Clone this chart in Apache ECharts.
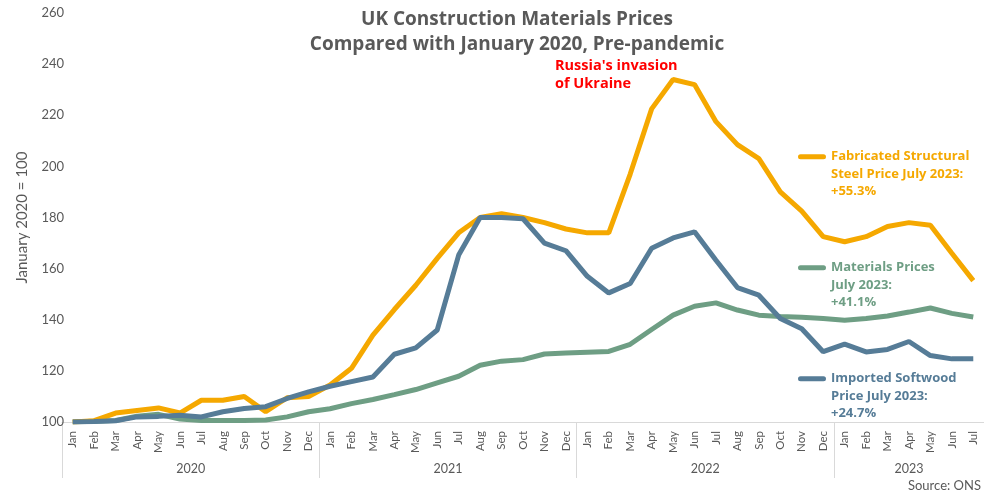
<!DOCTYPE html>
<html>
<head>
<meta charset="utf-8">
<script src="https://cdn.jsdelivr.net/npm/echarts@6/dist/echarts.min.js"></script>
<style>html,body{margin:0;padding:0;background:#fff}#c{width:984px;height:494px}</style>
</head>
<body>
<div id="c"></div>
<script>
var monthNames = ['Jan','Feb','Mar','Apr','May','Jun','Jul','Aug','Sep','Oct','Nov','Dec'];
var years = ['2020','2021','2022','2023'];
var monthsPerYear = [12, 12, 12, 7];

var steel = [100, 100.5, 103.5, 104.5, 105.5, 103.5, 108.5, 108.5, 110, 104, 109.5, 110,
  114.5, 121, 134, 144, 153.5, 164, 174, 180, 181.5, 180, 178, 175.5,
  174, 174, 197, 222.5, 234, 232, 217.5, 208.5, 203, 190, 182.5, 172.5,
  170.5, 172.5, 176.5, 178, 177, 166, 155.3];
var materials = [100, 100.3, 100.6, 102.3, 103, 101.2, 100.6, 100.6, 100.6, 100.8, 102, 104,
  105.2, 107.2, 108.8, 110.7, 112.7, 115.3, 117.9, 122.2, 123.8, 124.4, 126.6, 127,
  127.3, 127.6, 130.4, 136.2, 141.8, 145.3, 146.6, 143.8, 141.8, 141.3, 141, 140.5,
  139.8, 140.5, 141.5, 143, 144.6, 142.5, 141.1];
var softwood = [100, 100.2, 100.5, 102, 102.2, 102.6, 102, 104, 105.3, 106, 109.2, 111.8,
  114, 115.8, 117.6, 126.5, 129, 136, 165.3, 180, 180, 179.5, 170, 167,
  157, 150.5, 154.2, 168, 172, 174.4, 163.3, 152.6, 149.6, 140.5, 136.5, 127.5,
  130.5, 127.4, 128.4, 131.5, 126, 124.7, 124.7];

var seriesNames = ['Fabricated Structural Steel', 'Materials Prices', 'Imported Softwood'];
var legendTexts = ['Fabricated Structural\nSteel Price July 2023:\n+55.3%',
                   'Materials Prices\nJuly 2023:\n+41.1%',
                   'Imported Softwood\nPrice July 2023:\n+24.7%'];
var colors = ['#F5A800', '#6E9E84', '#567C97'];
var invasionPos = 26.1; // month index position (late Feb / start of Mar 2022)
var invasionText = "Russia's invasion\nof Ukraine";

var categories = [];
var yearBounds = [];
var yearCenters = [];
var acc = 0;
for (var y = 0; y < years.length; y++) {
  yearBounds.push(acc);
  yearCenters.push(acc + monthsPerYear[y] / 2);
  for (var m = 0; m < monthsPerYear[y]; m++) categories.push(monthNames[m]);
  acc += monthsPerYear[y];
}
yearBounds.push(acc);

var FONT = 'Lato';
var BFONT = 'Open Sans';
var GREY = '#595959';
var LH = 17.5;
var ICON = 'path://M2.5,0 L25.5,0 A2.5,2.5 0 0 1 25.5,5 L2.5,5 A2.5,2.5 0 0 1 2.5,0 Z M0,40 L28,40';

var chart = echarts.init(document.getElementById('c'), null, {renderer: 'canvas'});

function legendFor(i, top) {
  return {
    data: [seriesNames[i]],
    left: 793, top: top,
    orient: 'vertical',
    icon: ICON,
    itemWidth: 28, itemHeight: 40,
    selectedMode: false,
    formatter: function () { return legendTexts[i]; },
    textStyle: {color: colors[i], fontFamily: BFONT, fontWeight: 'bold', fontSize: 13, lineHeight: LH}
  };
}

chart.setOption({
  animation: false,
  textStyle: {fontFamily: FONT},
  title: [{
    text: 'UK Construction Materials Prices\nCompared with January 2020, Pre-pandemic',
    left: 512, top: 2, textAlign: 'center',
    textStyle: {fontFamily: BFONT, fontSize: 19, fontWeight: 'bold', color: GREY, lineHeight: 25}
  }],
  grid: {left: 62, right: 0, top: 13, bottom: 72, outerBoundsMode: 'none', containLabel: false},
  legend: [legendFor(0, 143), legendFor(1, 254), legendFor(2, 365)],
  xAxis: [{
    type: 'category', data: categories, boundaryGap: true,
    axisLine: {lineStyle: {color: '#d9d9d9', width: 1}},
    axisTick: {show: false},
    axisLabel: {rotate: 90, interval: 0, fontSize: 11.5, color: GREY, margin: 9, fontFamily: FONT}
  }, {
    type: 'value', min: 0, max: acc, position: 'bottom',
    axisLine: {show: false}, splitLine: {show: false},
    axisTick: {show: true, customValues: yearBounds, length: 56, lineStyle: {color: '#d9d9d9'}},
    axisLabel: {customValues: yearCenters, margin: 40, fontSize: 12.5, color: GREY, fontFamily: FONT,
      formatter: function (v) { var k = yearCenters.indexOf(v); return k >= 0 ? years[k] : ''; }}
  }],
  yAxis: {
    type: 'value', min: 100, max: 260, interval: 20, position: 'left',
    name: 'January 2020 = 100', nameLocation: 'middle', nameGap: 32, nameRotate: 90,
    nameMoveOverlap: false,
    nameTextStyle: {fontSize: 15, color: GREY, fontFamily: FONT},
    axisLine: {show: false}, axisTick: {show: false}, splitLine: {show: false},
    axisLabel: {fontSize: 13, color: GREY, margin: -2, align: 'right', fontFamily: FONT}
  },
  series: [{
    name: seriesNames[1], type: 'line', data: materials, showSymbol: false, symbol: 'none',
    lineStyle: {width: 5, color: colors[1]}, itemStyle: {color: colors[1]}, z: 2
  }, {
    name: seriesNames[0], type: 'line', data: steel, showSymbol: false, symbol: 'none',
    lineStyle: {width: 5, color: colors[0]}, itemStyle: {color: colors[0]}, z: 3
  }, {
    name: seriesNames[2], type: 'line', data: softwood, showSymbol: false, symbol: 'none',
    lineStyle: {width: 5, color: colors[2]}, itemStyle: {color: colors[2]}, z: 4
  }, {
    name: 'invasion', type: 'line', xAxisIndex: 1, data: [], clip: false, z: 5,
    markLine: {
      silent: true, symbol: 'none', animation: false,
      label: {show: false},
      lineStyle: {color: '#FF0000', type: [4, 3], width: 4, cap: 'butt'},
      data: [[{coord: [invasionPos, 225.5]}, {coord: [invasionPos, 97.3]}]]
    }
  }],
  graphic: [{
    type: 'text', left: 555, top: 57,
    style: {text: invasionText, fill: '#FF0000', font: 'bold 14.5px "Open Sans"', lineHeight: 18}
  }, {
    type: 'text', right: 3, bottom: 2,
    style: {text: 'Source: ONS', fill: GREY, font: '13px Lato'}
  }]
});
</script>
</body>
</html>
